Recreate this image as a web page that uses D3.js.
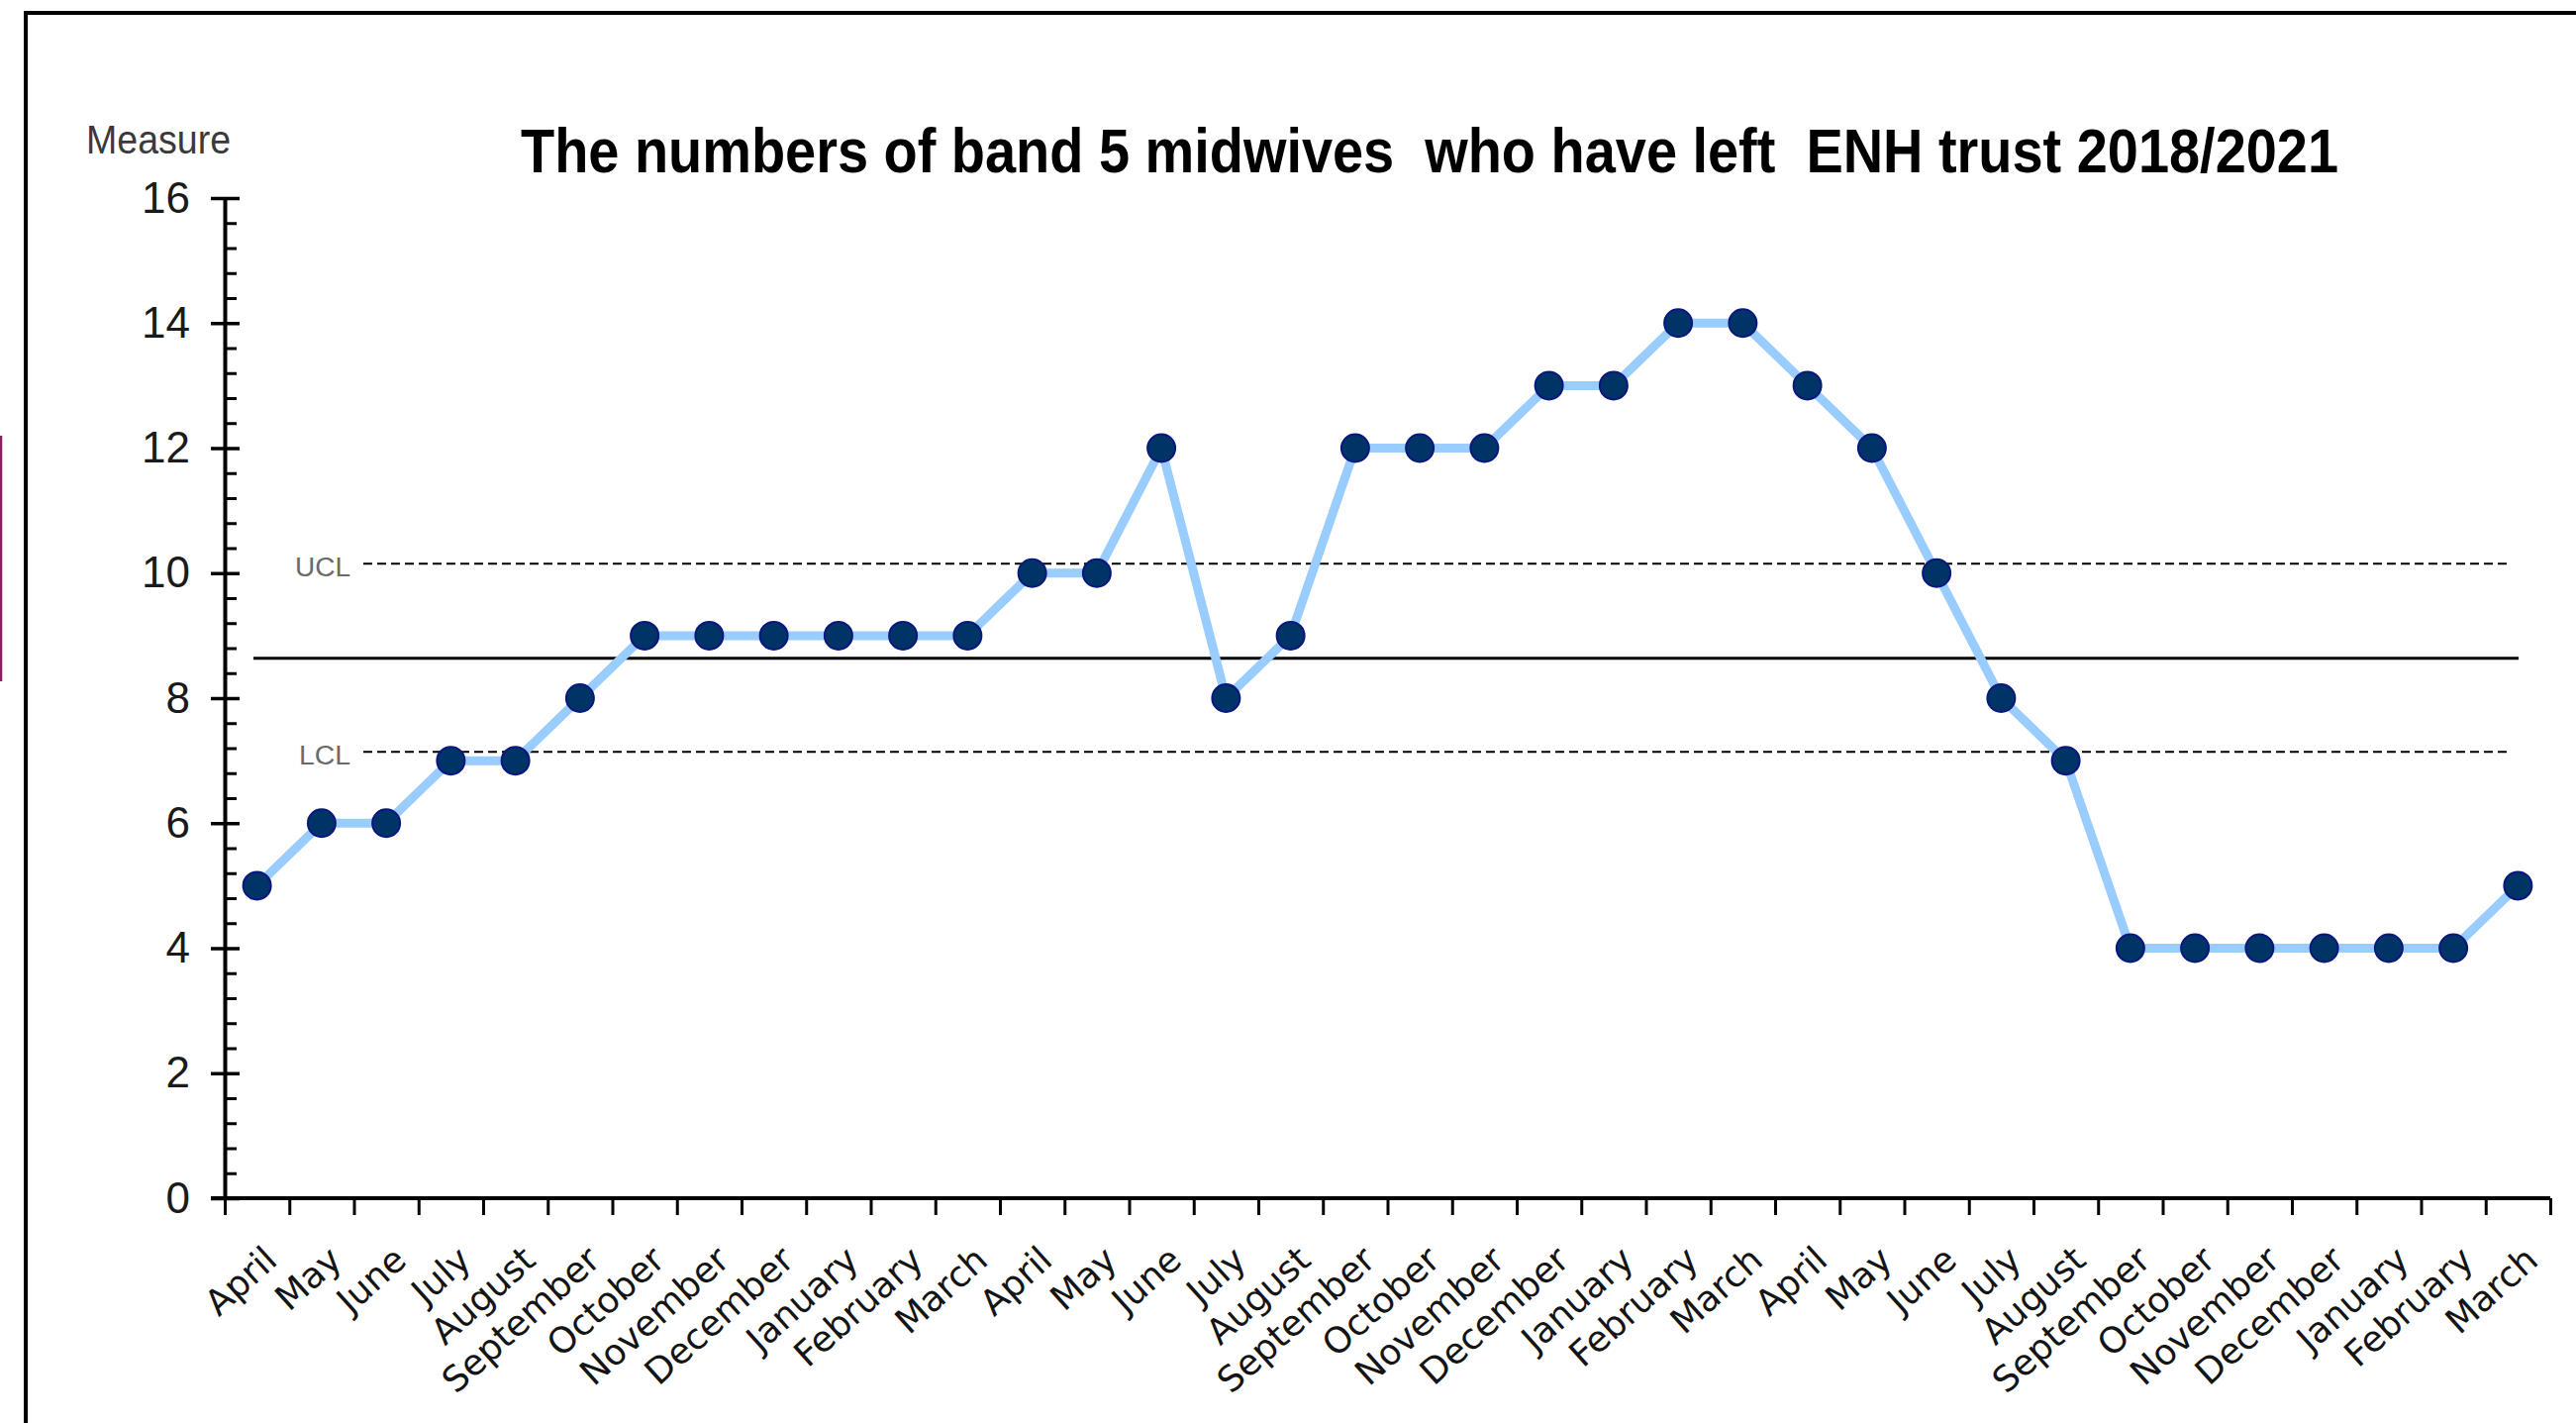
<!DOCTYPE html>
<html>
<head>
<meta charset="utf-8">
<script src="https://cdnjs.cloudflare.com/ajax/libs/d3/7.8.5/d3.min.js"></script>
<style>
  html, body { margin: 0; padding: 0; background: #ffffff; }
  svg { display: block; }
</style>
</head>
<body>
<script>
// Monthly leavers, April 2018 – March 2021
const months = [
  "April","May","June","July","August","September","October","November","December","January","February","March",
  "April","May","June","July","August","September","October","November","December","January","February","March",
  "April","May","June","July","August","September","October","November","December","January","February","March"
];
const leavers = [
  5, 6, 6, 7, 7, 8, 9, 9, 9, 9, 9, 9,
  10, 10, 12, 8, 9, 12, 12, 12, 13, 13, 14, 14,
  13, 12, 10, 8, 7, 4, 4, 4, 4, 4, 4, 5
];
const yTickValues = [0, 2, 4, 6, 8, 10, 12, 14, 16];
const limitLabels = ["UCL", "LCL"];
const limitValues = [10.15, 7.14];
const chartTitle = "The numbers of band 5 midwives  who have left  ENH trust 2018/2021";
const yAxisTitle = "Measure";

const W = 2602, H = 1437;
const svg = d3.select("body").append("svg")
  .attr("width", W).attr("height", H)
  .attr("viewBox", `0 0 ${W} ${H}`);

svg.append("rect").attr("width", W).attr("height", H).attr("fill", "#ffffff");

// outer frame (runs off the right and bottom edges)
svg.append("path")
  .attr("d", `M26,${H + 10} L26,13 L${W + 10},13`)
  .attr("fill", "none").attr("stroke", "#000").attr("stroke-width", 4);

// thin coloured rule at the far left
svg.append("line")
  .attr("x1", 1).attr("x2", 1).attr("y1", 440).attr("y2", 688)
  .attr("stroke", "#8b1f5f").attr("stroke-width", 2.5);

const plotLeft = 227, plotRight = 2576, plotTop = 200, plotBottom = 1210;

const x = d3.scaleBand().domain(d3.range(months.length)).range([plotLeft, plotRight]).paddingInner(0).paddingOuter(0);
const xEdge = d3.scaleLinear().domain([0, months.length]).range([plotLeft, plotRight]);
const y = d3.scaleLinear().domain([0, 16]).range([plotBottom, plotTop]);
const cx = i => x(i) + x.bandwidth() / 2;

// y axis: major ticks crossing the line, minor ticks on the inside
const minorTicks = d3.range(0, 16.001, 0.4).map(v => +v.toFixed(1)).filter(v => yTickValues.indexOf(v) < 0);

const yMajorL = svg.append("g").attr("transform", `translate(${plotLeft},0)`)
  .call(d3.axisLeft(y).tickValues(yTickValues).tickSize(14).tickPadding(21).tickSizeOuter(0).tickFormat(d3.format("d")));
yMajorL.select(".domain").attr("stroke-width", 4).attr("stroke", "#000");
yMajorL.selectAll(".tick line").attr("stroke-width", 3.5).attr("stroke", "#000");
yMajorL.selectAll(".tick text")
  .attr("font-family", "'Liberation Sans', Arial, sans-serif")
  .attr("font-size", 44).attr("fill", "#1a1a1a").attr("dy", "0.32em");

const yMajorR = svg.append("g").attr("transform", `translate(${plotLeft},0)`)
  .call(d3.axisRight(y).tickValues(yTickValues).tickSize(15).tickSizeOuter(0).tickFormat(""));
yMajorR.select(".domain").remove();
yMajorR.selectAll(".tick line").attr("stroke-width", 3.5).attr("stroke", "#000");

const yMinor = svg.append("g").attr("transform", `translate(${plotLeft},0)`)
  .call(d3.axisRight(y).tickValues(minorTicks).tickSize(12).tickSizeOuter(0).tickFormat(""));
yMinor.select(".domain").remove();
yMinor.selectAll(".tick line").attr("stroke-width", 3).attr("stroke", "#000");

// x axis: ticks on the category boundaries
const xAxis = svg.append("g").attr("transform", `translate(0,${plotBottom})`)
  .call(d3.axisBottom(xEdge).tickValues(d3.range(months.length + 1)).tickSize(17).tickSizeOuter(0).tickFormat(""));
xAxis.select(".domain").attr("stroke-width", 4).attr("stroke", "#000")
  .attr("d", `M${plotLeft - 14},0H${plotRight}`);
xAxis.selectAll(".tick line").attr("stroke-width", 3).attr("stroke", "#000");

// rotated month labels
svg.append("g").selectAll("text")
  .data(months)
  .join("text")
  .attr("transform", (d, i) => `translate(${cx(i) + 14},1266) rotate(-42)`)
  .attr("text-anchor", "end")
  .attr("dy", "0.35em")
  .attr("font-family", "'DejaVu Sans', Verdana, sans-serif")
  .attr("font-size", 36)
  .attr("fill", "#141414")
  .text(d => d);

// control limits
const limits = limitLabels.map((l, i) => ({ label: l, value: limitValues[i] }));
svg.append("g").selectAll("line")
  .data(limits)
  .join("line")
  .attr("x1", 367).attr("x2", 2536)
  .attr("y1", d => y(d.value)).attr("y2", d => y(d.value))
  .attr("stroke", "#000").attr("stroke-width", 2).attr("stroke-dasharray", "9,5");

svg.append("g").selectAll("text")
  .data(limits)
  .join("text")
  .attr("x", 354)
  .attr("y", d => y(d.value) + 3)
  .attr("dy", "0.35em")
  .attr("text-anchor", "end")
  .attr("font-family", "'Liberation Sans', Arial, sans-serif")
  .attr("font-size", 27)
  .attr("textLength", d => d.label === "UCL" ? 56 : 52)
  .attr("lengthAdjust", "spacingAndGlyphs")
  .attr("fill", "#6a6a6a")
  .text(d => d.label);

// mean line
const meanValue = d3.mean(leavers);
svg.append("line")
  .attr("x1", 256).attr("x2", 2544)
  .attr("y1", y(meanValue)).attr("y2", y(meanValue))
  .attr("stroke", "#000").attr("stroke-width", 3);

// data series
const line = d3.line().x((d, i) => cx(i)).y(d => y(d));
svg.append("path")
  .datum(leavers)
  .attr("d", line)
  .attr("fill", "none")
  .attr("stroke", "#99ccff")
  .attr("stroke-width", 9)
  .attr("stroke-linejoin", "round");

svg.append("g").selectAll("circle")
  .data(leavers)
  .join("circle")
  .attr("cx", (d, i) => cx(i))
  .attr("cy", d => y(d))
  .attr("r", 14)
  .attr("fill", "#003366")
  .attr("stroke", "#0a1780")
  .attr("stroke-width", 2);

// titles
svg.append("text")
  .attr("x", 87).attr("y", 155)
  .attr("font-family", "'Liberation Sans', Arial, sans-serif")
  .attr("font-size", 41)
  .attr("textLength", 146)
  .attr("lengthAdjust", "spacingAndGlyphs")
  .attr("fill", "#3a3a3a")
  .text(yAxisTitle);

svg.append("text")
  .attr("x", 526).attr("y", 174)
  .attr("font-family", "'Liberation Sans', Arial, sans-serif")
  .attr("font-weight", "bold")
  .attr("font-size", 63)
  .attr("textLength", 1836)
  .attr("lengthAdjust", "spacingAndGlyphs")
  .attr("fill", "#000")
  .style("white-space", "pre")
  .text(chartTitle);
</script>
</body>
</html>
